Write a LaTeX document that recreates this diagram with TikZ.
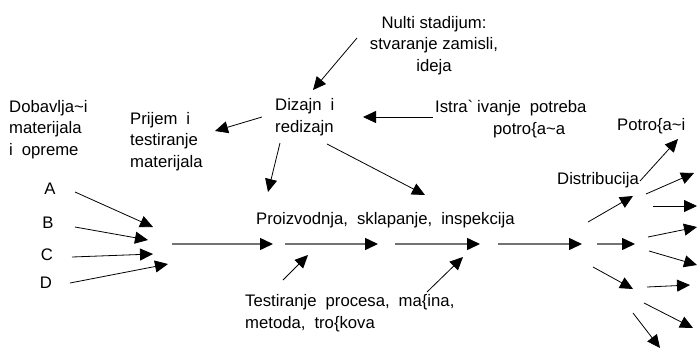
\documentclass[tikz,border=0pt]{standalone}
\usepackage{fontspec}
\newfontfamily\diagfont{Liberation Sans}
\newcommand\diagtext{\diagfont\fontsize{16.7pt}{21.5pt}\selectfont\spaceskip=9pt plus 2pt minus 1pt\relax}
\newcommand\diagtight{\diagfont\fontsize{16.7pt}{21.5pt}\selectfont\spaceskip=0pt\relax}
\usetikzlibrary{arrows.meta}
\begin{document}
\begin{tikzpicture}[x=1pt,y=-1pt,
  lbl/.style={inner sep=0pt,anchor=base west,align=left,font=\diagtext},
  tight/.style={font=\diagtight},
  letter/.style={lbl,anchor=base},
  arr/.style={-{Triangle[length=13pt,width=12pt]},line width=0.8pt,black},
  flow/.style={-{Triangle[length=13pt,width=12pt,color=black]},line width=1.5pt,draw=black!55}]
\useasboundingbox (0,0) rectangle (698,349);

% text blocks (multi-line blocks are placed by the baseline of their last line)
\node[lbl,tight,anchor=base,align=center] (nulti) at (434,71) {Nulti stadijum:\\stvaranje zamisli,\\ideja};
\node[lbl] (dizajn) at (275,132) {Dizajn i\\redizajn};
\node[lbl] (prijem) at (130,167) {Prijem i\\testiranje\\materijala};
\node[lbl] (dobav) at (9,155) {Dobavlja\textasciitilde i\\materijala\\i opreme};
\node[lbl] (istraz) at (435,134) {Istra\symbol{96}\hspace{4pt}ivanje potreba\\\hspace*{58pt}potro\{a\textasciitilde a};
\node[lbl] (potr) at (617,130) {Potro\{a\textasciitilde i};
\node[lbl] (distr) at (557,184) {Distribucija};
\node[lbl] (proiz) at (256,224) {Proizvodnja, sklapanje, inspekcija};
\node[lbl] (test) at (245,328) {Testiranje procesa, ma\{ina,\\metoda, tro\{kova};
\node[letter] (A) at (50,194) {A};
\node[letter] (B) at (48,228) {B};
\node[letter] (C) at (47,260) {C};
\node[letter] (D) at (46,288) {D};

% arrow end points
\coordinate (n1) at (357,38);   \coordinate (n2) at (313,90);
\coordinate (i1) at (433,117);  \coordinate (i2) at (363,117);
\coordinate (d1) at (262,117);  \coordinate (d2) at (215,131);
\coordinate (d3) at (280,143);  \coordinate (d4) at (268,192);
\coordinate (d5) at (327,144);  \coordinate (d6) at (425,195);
\coordinate (a1) at (75,192);   \coordinate (a2) at (153,227);
\coordinate (b1) at (75,227);   \coordinate (b2) at (148,240);
\coordinate (c1) at (72,257);   \coordinate (c2) at (153,254);
\coordinate (e1) at (70,283);   \coordinate (e2) at (168,264);
\coordinate (t1) at (283,280);  \coordinate (t2) at (308,255);
\coordinate (t3) at (427,292);  \coordinate (t4) at (463,257);
\coordinate (m1) at (172,244);  \coordinate (m2) at (273,244);
\coordinate (m3) at (285,244);  \coordinate (m4) at (378,244);
\coordinate (m5) at (395,244);  \coordinate (m6) at (480,244);
\coordinate (m7) at (498,244);  \coordinate (m8) at (582,244);
\coordinate (m9) at (597,244);  \coordinate (m10) at (635,244);
\coordinate (r1) at (588,222);  \coordinate (r2) at (633,196);
\coordinate (r3) at (593,267);  \coordinate (r4) at (633,289);
\coordinate (p1) at (640,181);  \coordinate (p2) at (678,139);
\coordinate (f1s) at (646,194); \coordinate (f1e) at (694,173);
\coordinate (f2s) at (653,206); \coordinate (f2e) at (697,206);
\coordinate (f3s) at (648,237); \coordinate (f3e) at (697,227);
\coordinate (f4s) at (649,251); \coordinate (f4e) at (697,265);
\coordinate (f5s) at (647,287); \coordinate (f5e) at (690,285);
\coordinate (f6s) at (644,303); \coordinate (f6e) at (693,328);
\coordinate (f7s) at (633,313); \coordinate (f7e) at (660,348);

% design stage
\draw[arr] (n1) -- (n2);
\draw[arr] (i1) -- (i2);
\draw[arr] (d1) -- (d2);
\draw[arr] (d3) -- (d4);
\draw[arr] (d5) -- (d6);

% suppliers
\draw[arr] (a1) -- (a2);
\draw[arr] (b1) -- (b2);
\draw[arr] (c1) -- (c2);
\draw[arr] (e1) -- (e2);

% process testing
\draw[arr] (t1) -- (t2);
\draw[arr] (t3) -- (t4);

% main production flow
\draw[flow] (m1) -- (m2);
\draw[flow] (m3) -- (m4);
\draw[flow] (m5) -- (m6);
\draw[flow] (m7) -- (m8);
\draw[flow] (m9) -- (m10);

% distribution
\draw[arr] (r1) -- (r2);
\draw[arr] (r3) -- (r4);
\draw[arr] (p1) -- (p2);
\draw[arr] (f1s) -- (f1e);
\draw[arr] (f2s) -- (f2e);
\draw[arr] (f3s) -- (f3e);
\draw[arr] (f4s) -- (f4e);
\draw[arr] (f5s) -- (f5e);
\draw[arr] (f6s) -- (f6e);
\draw[arr] (f7s) -- (f7e);
\end{tikzpicture}
\end{document}
